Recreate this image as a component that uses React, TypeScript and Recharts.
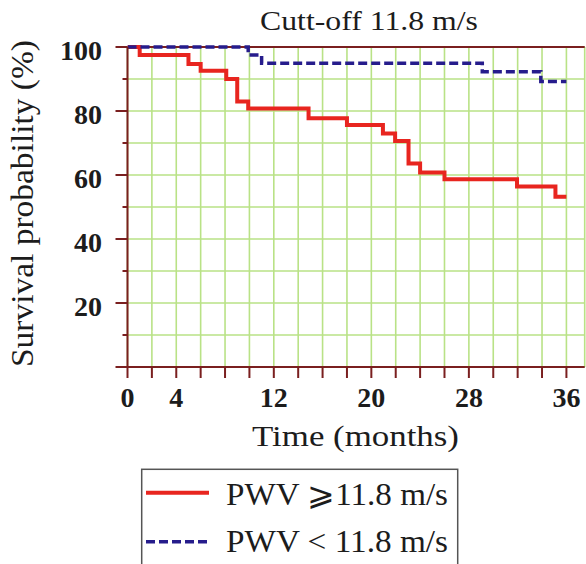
import React from 'react';
import { LineChart, Line, XAxis, YAxis, CartesianGrid, ReferenceLine } from 'recharts';

const chartTitle = 'Cutt-off 11.8 m/s';
const xAxisTitle = 'Time (months)';
const yAxisTitle = 'Survival probability (%)';
const seriesNames = ['PWV \u2A7E11.8 m/s', 'PWV < 11.8 m/s'];

const xTicks = [0, 2, 4, 6, 8, 10, 12, 14, 16, 18, 20, 22, 24, 26, 28, 30, 32, 34, 36];
const xTickLabels = [0, 4, 12, 20, 28, 36];
const yTicks = [0, 10, 20, 30, 40, 50, 60, 70, 80, 90, 100];
const yTickLabels = [20, 40, 60, 80, 100];

const highMonths = [0, 1, 5, 6, 8.1, 9, 9.9, 14.85, 18, 20.95, 21.95, 23.05, 24, 26, 31.95, 35.1, 36];
const highSurvival = [100, 97.5, 94.7, 92.6, 90, 83, 80.8, 77.7, 75.6, 73, 70.6, 63.6, 60.8, 58.7, 56.4, 53.2, 53.2];
const lowMonths = [0, 9.9, 11, 29.1, 33.9, 36];
const lowSurvival = [100, 97.5, 94.9, 92.3, 89.2, 89.2];

const highData = highMonths.map((m, i) => ({ month: m, survival: highSurvival[i] }));
const lowData = lowMonths.map((m, i) => ({ month: m, survival: lowSurvival[i] }));

const AXIS = '#7a1f1f';
const GRID = '#b9e286';
const RED = '#e8251f';
const BLUE = '#261c8c';
const TEXT = '#1c1c1c';
const FONT = 'Liberation Serif, Tinos, Times New Roman, Times, serif';
const fontStyle = { fontFamily: FONT } as React.CSSProperties;

const XTick = (props: any) => {
  const { x, y, payload } = props;
  const v = payload.value;
  return (
    <g>
      <line x1={x} x2={x} y1={y} y2={y + 11} stroke={AXIS} strokeWidth={2} />
      {xTickLabels.includes(v) && (
        <text x={x} y={y + 40} textAnchor="middle" style={fontStyle} fontWeight="bold" fontSize={28} fill={TEXT}>
          {v}
        </text>
      )}
    </g>
  );
};

const YTick = (props: any) => {
  const { x, y, payload } = props;
  const v = payload.value;
  const major = v % 20 === 0;
  return (
    <g>
      <line x1={x - (major ? 12 : 5)} x2={x} y1={y} y2={y} stroke={AXIS} strokeWidth={2} />
      {yTickLabels.includes(v) && (
        <text x={x - 25.5} y={y + 13} textAnchor="end" style={fontStyle} fontWeight="bold" fontSize={28} fill={TEXT}>
          {v}
        </text>
      )}
    </g>
  );
};

const Texts = () => (
  <g>
    <text x={260} y={30} style={fontStyle} fontSize={27} fill={TEXT} textLength={218} lengthAdjust="spacingAndGlyphs">
      {chartTitle}
    </text>
    <text x={252} y={446} style={fontStyle} fontSize={30} fill={TEXT} textLength={207} lengthAdjust="spacingAndGlyphs">
      {xAxisTitle}
    </text>
    <text
      transform="translate(33,367) rotate(-90)"
      x={0}
      y={0}
      style={fontStyle}
      fontSize={31}
      fill={TEXT}
      textLength={327}
      lengthAdjust="spacingAndGlyphs"
    >
      {yAxisTitle}
    </text>
    <rect x={141.7} y={469.3} width={316} height={110} fill="#ffffff" stroke="#555555" strokeWidth={1.5} />
    <line x1={146} x2={209} y1={492.7} y2={492.7} stroke={RED} strokeWidth={4} />
    <text x={226} y={505} style={fontStyle} fontSize={32} fill={TEXT} textLength={222} lengthAdjust="spacingAndGlyphs">
      {seriesNames[0]}
    </text>
    <line x1={146} x2={209} y1={541.7} y2={541.7} stroke={BLUE} strokeWidth={3.5} strokeDasharray="9 4" />
    <text x={226} y={551.7} style={fontStyle} fontSize={32} fill={TEXT} textLength={222} lengthAdjust="spacingAndGlyphs">
      {seriesNames[1]}
    </text>
  </g>
);

export default function App() {
  return (
    <div style={{ position: 'absolute', left: 0, top: 0, width: 586, height: 564, background: '#ffffff' }}>
      <LineChart width={586} height={564} margin={{ top: 47, right: 1.3, bottom: 167, left: 67.5 }}>
        <CartesianGrid stroke={GRID} strokeWidth={1.6} />
        <XAxis
          type="number"
          dataKey="month"
          domain={[0, 37.5]}
          ticks={xTicks}
          allowDataOverflow
          height={30}
          axisLine={{ stroke: AXIS, strokeWidth: 2 }}
          tickLine={false}
          tickSize={0}
          tickMargin={0}
          tick={<XTick />}
          interval={0}
        />
        <YAxis
          type="number"
          dataKey="survival"
          domain={[0, 100]}
          ticks={yTicks}
          width={60}
          axisLine={{ stroke: AXIS, strokeWidth: 2 }}
          tickLine={false}
          tickSize={0}
          tickMargin={0}
          tick={<YTick />}
          interval={0}
        />
        <ReferenceLine y={100} stroke={AXIS} strokeWidth={2} />
        <Line
          data={highData}
          dataKey="survival"
          name={seriesNames[0]}
          type="stepAfter"
          stroke={RED}
          strokeWidth={4}
          dot={false}
          activeDot={false}
          isAnimationActive={false}
        />
        <Line
          data={lowData}
          dataKey="survival"
          name={seriesNames[1]}
          type="stepAfter"
          stroke={BLUE}
          strokeWidth={3.5}
          strokeDasharray="9 4"
          dot={false}
          activeDot={false}
          isAnimationActive={false}
        />
        <Texts />
      </LineChart>
    </div>
  );
}
